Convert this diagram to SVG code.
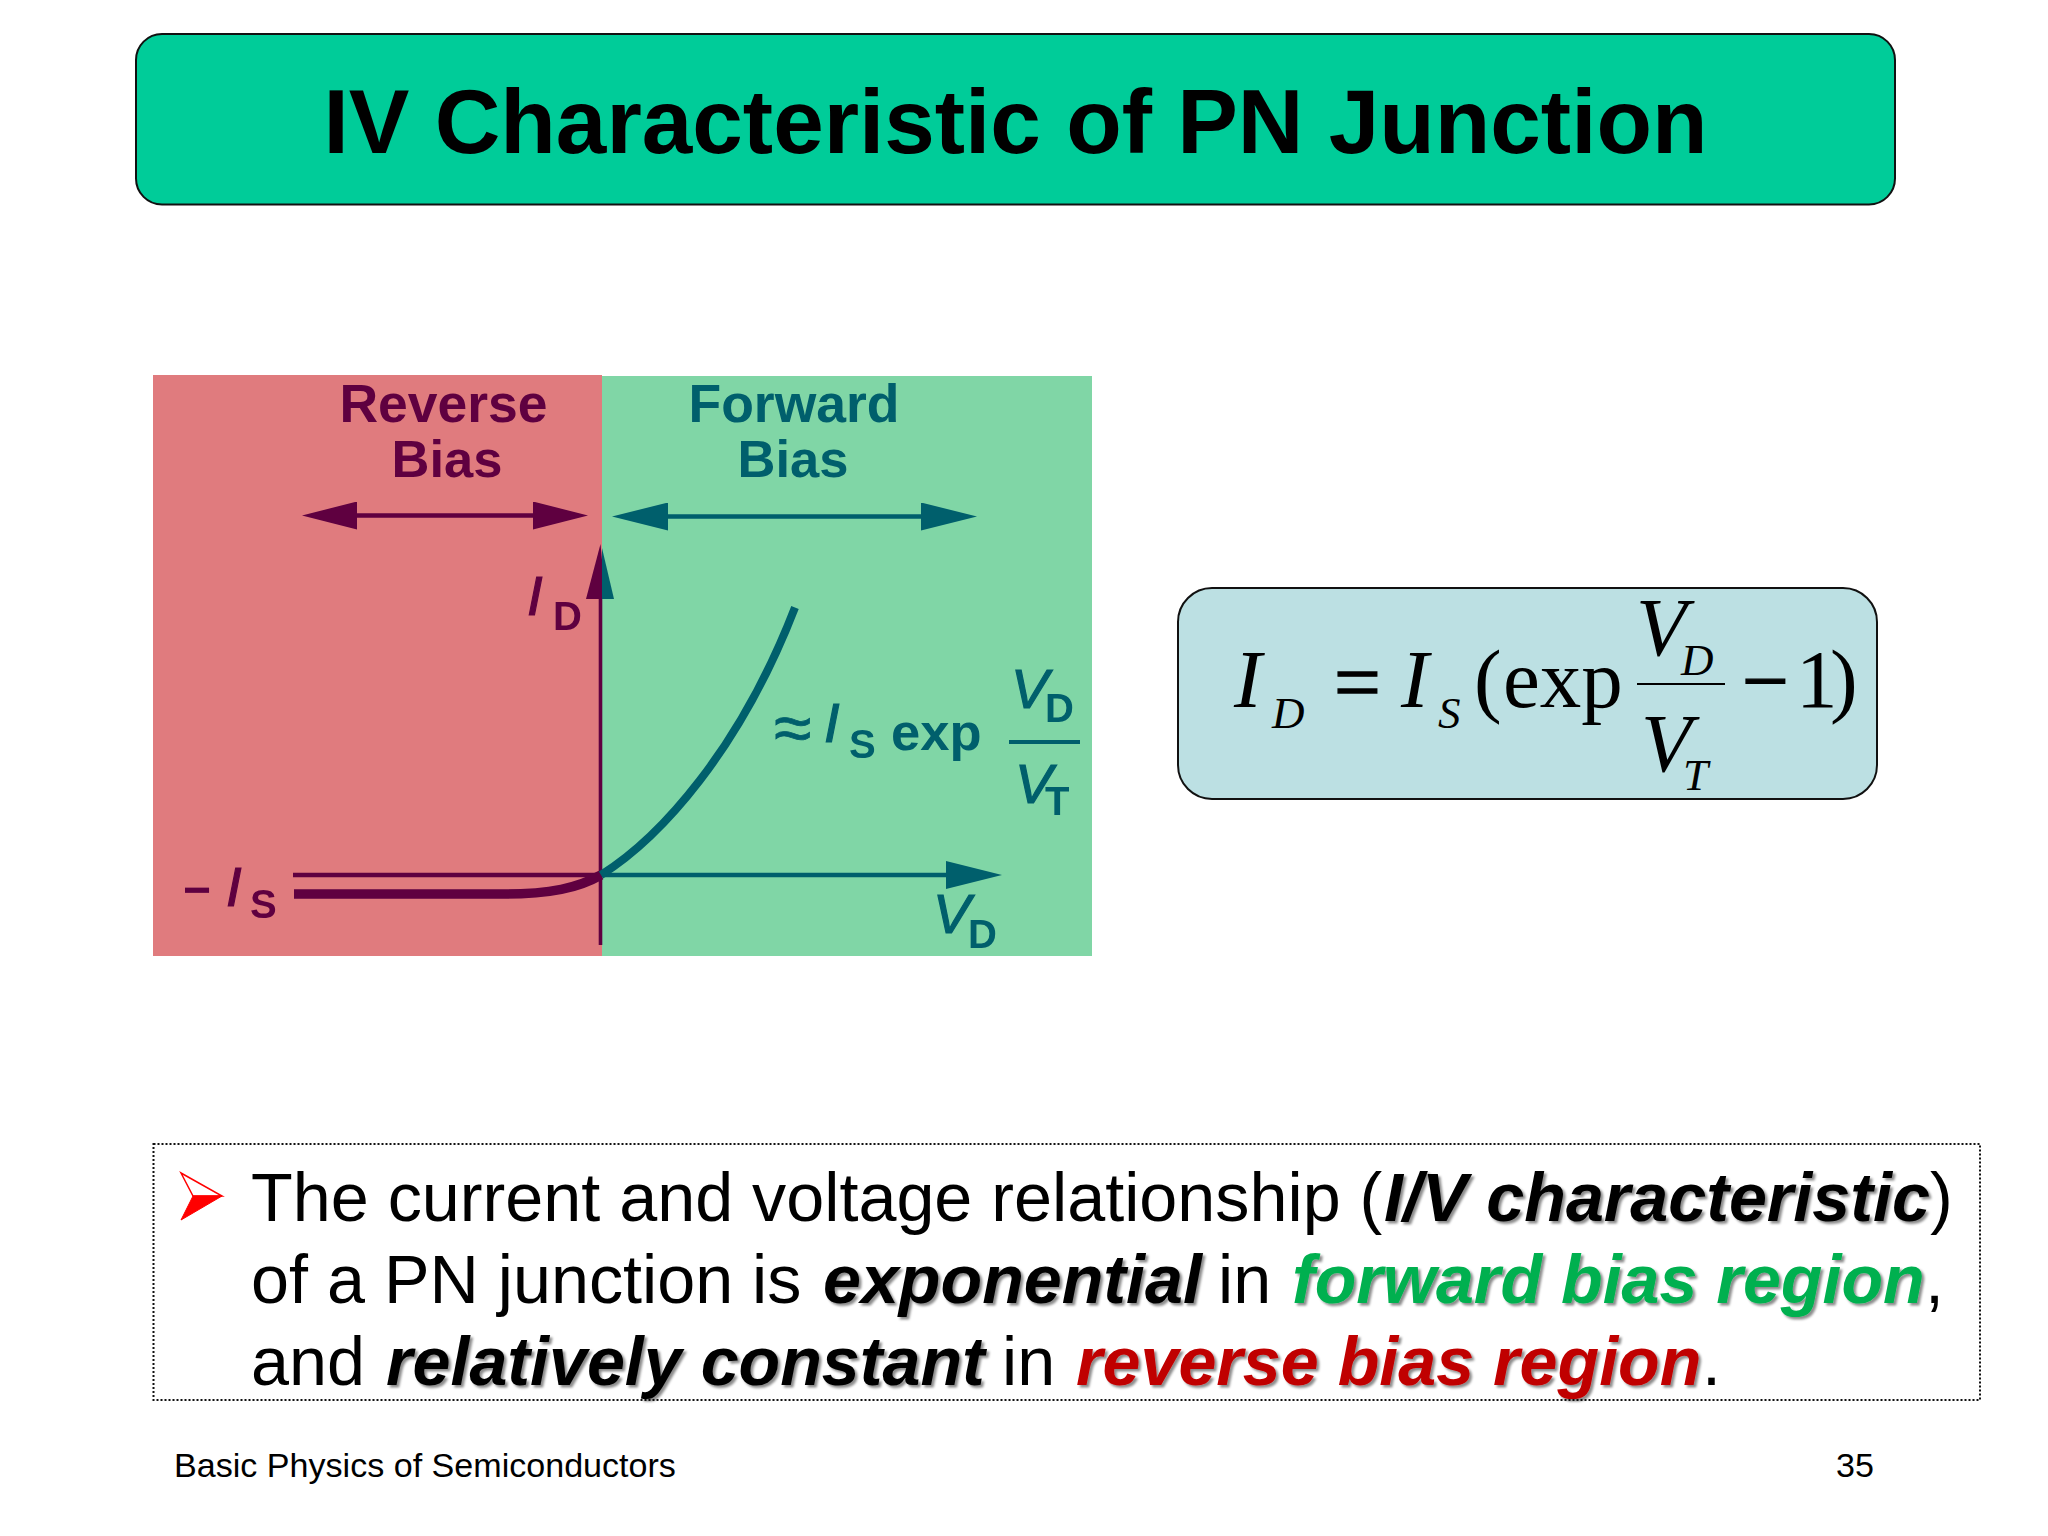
<svg xmlns="http://www.w3.org/2000/svg" width="2048" height="1536" viewBox="0 0 2048 1536">
<style>
text{font-family:"Liberation Sans",Arial,sans-serif}
.title{font-size:90.9px;font-weight:700;fill:#000}
.m{fill:#5E0040;stroke:#5E0040}.t{fill:#005E6C;stroke:#005E6C}
.m text,.t text{stroke-width:0}
.lbl{font-size:52.5px;font-weight:700}
.wide{font-size:53.5px}
.m .iv,.t .iv{font-size:56px;font-style:italic;stroke-width:1.2px}
.sub{font-size:40px;font-weight:700}
.eq text{font-family:"Liberation Serif","Times New Roman",serif;fill:#000}
.big{font-size:83px}.it{font-style:italic}.sm{font-size:45px;font-style:italic}
.eq .heavy{stroke:#000;stroke-width:1.4px}
.body{font-size:68.3px;fill:#000}
.em{font-size:68.2px;font-weight:700;font-style:italic;filter:url(#sh)}
.foot{font-size:34.1px;fill:#000}
</style>
<defs>
<filter id="sh" x="-5%" y="-20%" width="110%" height="150%"><feDropShadow dx="2.5" dy="2.5" stdDeviation="1.3" flood-color="#000" flood-opacity="0.45"/></filter>
<filter id="soft" x="0" y="0" width="100%" height="100%"><feGaussianBlur stdDeviation="0.7"/></filter>
<marker id="hm" viewBox="0 -14 55 28" markerUnits="userSpaceOnUse" markerWidth="55" markerHeight="28" refX="0" refY="0" orient="auto-start-reverse"><path d="M0-14 55 0 0 14z" fill="#5E0040"/></marker>
<marker id="ht" viewBox="0 -14 56 28" markerUnits="userSpaceOnUse" markerWidth="56" markerHeight="28" refX="0" refY="0" orient="auto-start-reverse"><path d="M0-14 56 0 0 14z" fill="#005E6C"/></marker>
</defs>
<rect width="2048" height="1536" fill="#fff"/>
<g id="title">
<rect x="136" y="34" width="1759" height="170.500" rx="26" fill="#00CC99" stroke="#111" stroke-width="2"/>
<text class="title" x="1015.500" y="153" text-anchor="middle">IV Characteristic of PN Junction</text>
</g>
<g id="plot-background">
<rect x="153" y="375" width="449" height="581" fill="#E07B7E"/>
<rect x="602" y="376" width="490" height="580" fill="#80D6A6"/>
</g>
<g filter="url(#soft)">
<g id="connectors" fill="none">
<path d="M357 515.500H533" stroke="#5E0040" stroke-width="4.500" marker-start="url(#hm)" marker-end="url(#hm)"/>
<path d="M668 516.500H921" stroke="#005E6C" stroke-width="4.500" marker-start="url(#ht)" marker-end="url(#ht)"/>
<path d="M293 875H600" stroke="#5E0040" stroke-width="4.700"/>
<path d="M600 875H946" stroke="#005E6C" stroke-width="4.700" marker-end="url(#ht)"/>
<path d="M600.500 945V595" stroke="#5E0040" stroke-width="3.600"/>
<path d="M294 894H505C550 894 578 888 601 875" stroke="#5E0040" stroke-width="9.500"/>
<path d="M601 875C660 838 740 750 795 607.500" stroke="#005E6C" stroke-width="8"/>
<path d="M600.500 544 586 599H602V560Z" fill="#5E0040"/>
<path d="M602 548 614 599H602Z" fill="#005E6C"/>
</g>
<g id="label-reverse-bias" class="m lbl" text-anchor="middle"><text class="wide" x="443.500" y="422">Reverse</text><text x="447" y="476.500">Bias</text></g>
<g id="label-forward-bias" class="t lbl" text-anchor="middle"><text class="wide" x="794" y="422">Forward</text><text x="793" y="476.500">Bias</text></g>
<g id="label-id" class="m"><text class="iv" x="527" y="615">I</text><text class="sub" x="553" y="630">D</text></g>
<g id="label-minus-is" class="m"><text x="183" y="906" font-size="48" font-weight="700">−</text><text class="iv" x="226" y="906">I</text><text class="sub" x="250" y="918">S</text></g>
<g id="label-approx" class="t"><text x="774" y="751" font-size="68" style="stroke-width:.8px">≈</text><text class="iv" x="824" y="742">I</text><text class="sub" x="849" y="758">S</text><text class="lbl" x="891" y="750">exp</text></g>
<g id="label-fraction" class="t"><text class="iv" x="1011" y="708">V</text><text class="sub" x="1045" y="722">D</text><rect x="1009" y="740" width="71" height="4" stroke="none"/><text class="iv" x="1015" y="803">V</text><text class="sub" x="1045" y="815">T</text></g>
<g id="label-vd" class="t"><text class="iv" x="933" y="933">V</text><text class="sub" x="968" y="948">D</text></g>
</g>
<g id="equation" class="eq">
<rect x="1178" y="588" width="699" height="211" rx="34" fill="#BCE0E3" stroke="#111" stroke-width="2"/>
<text class="big it" x="1234" y="706.500">I</text>
<text class="sm" x="1272" y="727.500">D</text>
<text class="big heavy" x="1334" y="710">=</text>
<text class="big it" x="1401" y="706.500">I</text>
<text class="sm" x="1438" y="727.500">S</text>
<text class="big" x="1474" y="706.500">(</text>
<text class="big" x="1503" y="706.500">exp</text>
<rect x="1637" y="683" width="88" height="2" fill="#000"/>
<text class="big it" x="1636" y="655">V</text>
<text class="sm" x="1681" y="675">D</text>
<text class="big it" x="1641" y="771">V</text>
<text class="sm" x="1683" y="790">T</text>
<text class="big heavy" x="1742" y="709">−</text>
<text class="big" x="1796" y="706.500">1</text>
<text class="big" x="1830" y="706.500">)</text>
</g>
<g id="note">
<rect x="153.500" y="1144" width="1826.500" height="256" fill="none" stroke="#111" stroke-width="2" stroke-dasharray="2 2"/>
<path d="M181 1173 222 1196H193Z" fill="#fff" stroke="#f00" stroke-width="1.500"/>
<path d="M181 1220 193 1196H222Z" fill="#f00" stroke="#f00" stroke-width="1"/>
<text class="body" x="251" y="1220.500">The current and voltage relationship (</text>
<text class="em" x="1384" y="1220.500">I/V characteristic</text>
<text class="body" x="1930" y="1220.500">)</text>
<text class="body" x="251" y="1303">of a PN junction is</text>
<text class="em" x="823" y="1303">exponential</text>
<text class="body" x="1218" y="1303">in</text>
<text class="em" style="fill:#00B050" x="1292" y="1303">forward bias region</text>
<text class="body" x="1925" y="1303">,</text>
<text class="body" x="251" y="1385">and</text>
<text class="em" x="386" y="1385">relatively constant</text>
<text class="body" x="1002" y="1385">in</text>
<text class="em" style="fill:#C00000" x="1076" y="1385">reverse bias region</text>
<text class="body" x="1702" y="1385">.</text>
</g>
<g id="footer">
<text class="foot" x="174" y="1477">Basic Physics of Semiconductors</text>
<text class="foot" x="1836" y="1477">35</text>
</g>
</svg>
